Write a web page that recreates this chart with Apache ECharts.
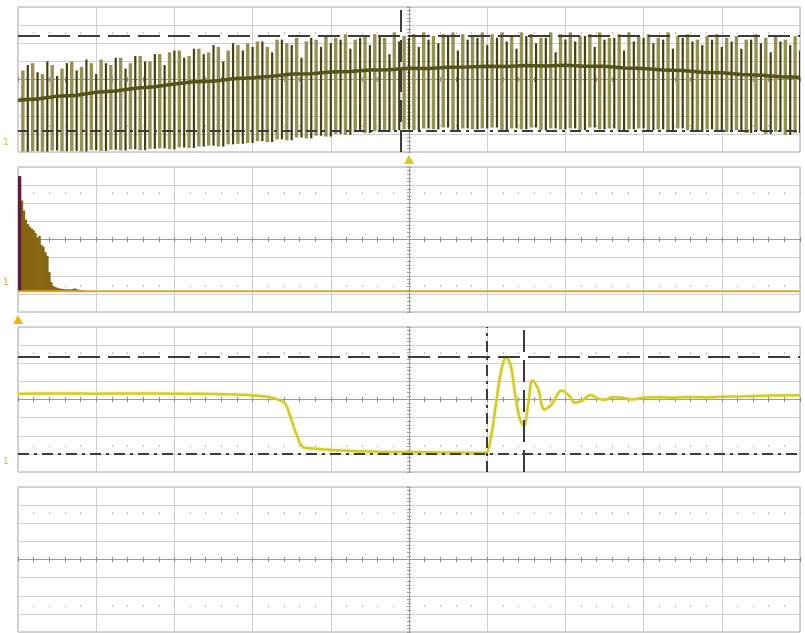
<!DOCTYPE html>
<html>
<head>
<meta charset="utf-8">
<title>Scope capture</title>
<script src="https://cdn.jsdelivr.net/npm/echarts@6/dist/echarts.min.js"></script>
<style>
  html, body { margin: 0; padding: 0; background: #fff; }
  #scope { width: 805px; height: 633px; }
</style>
</head>
<body>
<div id="scope"></div>
<script>
// all values in screen divisions: x 0..10, y 0..8

// panel 1 - switching ripple, one light + one dark spike per step
var spikeStart = 0.0625;
var spikeStep = 0.125;
var spikeLightTop = [
  4.5, 4.9, 4.3, 4.8, 4.6, 5.0, 4.7, 4.9,
  5.1, 4.8, 5.2, 4.9, 5.3, 5.0, 5.4, 5.5,
  5.6, 5.3, 5.7, 5.5, 5.8, 5.6, 5.9, 6.0,
  6.1, 5.8, 6.2, 6.0, 6.3, 6.1, 6.2, 6.4,
  6.3, 6.5, 6.2, 6.4, 6.5, 6.3, 6.6, 6.4,
  6.5, 6.6, 6.4, 6.5, 6.6, 6.5, 6.4, 6.6,
  6.5, 6.6, 6.4, 6.6, 6.5, 6.3, 6.6, 6.5,
  6.6, 6.4, 6.5, 6.6, 6.3, 6.5, 6.6, 6.4,
  6.5, 6.3, 6.6, 6.4, 6.5, 6.2, 6.4, 6.5,
  6.3, 6.4, 6.2, 6.5, 6.3, 6.4, 6.2, 6.4
];
var spikeDarkTop = [
  4.8, 4.4, 5.0, 4.2, 4.9, 4.5, 5.1, 4.3,
  4.9, 5.2, 4.6, 5.3, 5.0, 5.4, 4.8, 5.6,
  5.2, 5.7, 5.4, 5.9, 5.0, 6.0, 5.6, 5.8,
  6.1, 5.5, 6.2, 5.9, 5.2, 6.3, 5.8, 6.0,
  6.2, 5.7, 6.3, 5.9, 6.4, 5.4, 6.1, 6.3,
  5.8, 6.2, 6.0, 6.4, 5.6, 6.2, 6.3, 5.9,
  6.3, 6.1, 5.7, 6.4, 6.0, 6.3, 5.5, 6.2,
  6.1, 6.4, 5.8, 6.2, 6.3, 5.6, 6.1, 6.3,
  6.0, 6.2, 5.7, 6.3, 6.1, 5.9, 6.2, 5.8,
  6.1, 5.7, 6.2, 6.0, 5.5, 6.1, 5.9, 5.6
];
var spikeBottom = [
  0.02, 0.05, 0.02, 0.08, 0.04, 0.06, 0.03, 0.10,
  0.06, 0.12, 0.08, 0.15, 0.10, 0.18, 0.20, 0.15,
  0.25, 0.22, 0.30, 0.35, 0.30, 0.42, 0.45, 0.50,
  0.60, 0.55, 0.70, 0.65, 0.80, 0.75, 0.90, 0.85,
  1.00, 0.95, 1.10, 1.05, 1.15, 1.10, 1.20, 1.25,
  1.20, 1.30, 1.25, 1.35, 1.20, 1.30, 1.25, 1.30,
  1.35, 1.20, 1.30, 1.25, 1.35, 1.20, 1.30, 1.25,
  1.30, 1.20, 1.35, 1.25, 1.30, 1.20, 1.25, 1.30,
  1.20, 1.25, 1.15, 1.30, 1.20, 1.10, 1.25, 1.15,
  1.10, 1.20, 1.05, 1.15, 1.00, 1.10, 0.95, 1.05
];
var avgStep = 0.25;
var avgLevel = [
  2.85, 2.93, 3.07, 3.13, 3.30, 3.36, 3.52, 3.60, 3.75, 3.87,
  3.90, 4.04, 4.10, 4.18, 4.30, 4.32, 4.42, 4.44, 4.52, 4.54,
  4.62, 4.61, 4.68, 4.69, 4.73, 4.72, 4.77, 4.75, 4.78, 4.73,
  4.73, 4.64, 4.61, 4.53, 4.49, 4.40, 4.37, 4.28, 4.23, 4.15,
  4.12
];

// panel 2 - spectrum
var fftStart = 0.05;
var fftStep = 0.025;
var fftBase = 1.15;
var fftDc = [0.02, 7.5];
var fftLevel = [
  6.15, 5.6, 5.1, 4.85, 4.7, 4.6, 4.5, 4.35, 4.1, 4.2,
  3.7, 3.6, 3.3, 3.1, 2.2, 1.65, 1.45, 1.38, 1.34, 1.3,
  1.28, 1.27, 1.25, 1.26, 1.25, 1.24, 1.27, 1.3, 1.26, 1.23,
  1.22, 1.2, 1.18
];

// panel 3 - step response
var stepTime = [0, 0.5, 1, 1.5, 2, 2.5, 2.8, 3.0, 3.2, 3.35, 3.42, 3.48, 3.55, 3.63, 3.7, 3.9,
  4.2, 4.6, 5.0, 5.5, 5.95, 6.0, 6.06, 6.12, 6.18, 6.24, 6.3, 6.36, 6.42, 6.47, 6.52,
  6.58, 6.65, 6.73, 6.82, 6.95, 7.05, 7.12, 7.22, 7.32, 7.42, 7.5, 7.6, 7.72, 7.85,
  8.0, 8.2, 8.4, 8.6, 8.8, 9.0, 9.3, 9.6, 10];
var stepLevel = [4.32, 4.33, 4.32, 4.33, 4.32, 4.3, 4.27, 4.22, 4.15, 3.95, 3.75, 3.1, 2.2, 1.42, 1.32, 1.25,
  1.17, 1.12, 1.1, 1.08, 1.06, 1.1, 2.2, 4.0, 5.6, 6.35, 5.9, 4.2, 2.9, 2.55, 3.6,
  5.05, 4.6, 3.45, 3.7, 4.5, 4.2, 3.82, 3.95, 4.25, 4.05, 3.98, 4.12, 4.1, 4.0,
  4.1, 4.12, 4.1, 4.14, 4.12, 4.15, 4.18, 4.22, 4.23];

// cursors
var p1Cursor = { hi: 6.4, lo: 1.16, t: 4.9, trig: 5.0 };
var p3Cursor = { hi: 6.35, lo: 1.0, t1: 6.0, t2: 6.47 };

var panelTops = [7, 167, 327, 487];
var panelH = 145, panelW = 782, panelL = 18;

var chart = echarts.init(document.getElementById('scope'));

var grids = [], xAxes = [], yAxes = [];
var gridCol = '#cfcfcf', midCol = '#9a9a9a';
var xCols = [], yCols = [];
for (var k = 0; k <= 10; k++) xCols.push(k === 5 ? midCol : gridCol);
for (var k = 0; k <= 8; k++) yCols.push(k === 4 ? midCol : gridCol);

panelTops.forEach(function (top, i) {
  grids.push({ left: panelL, top: top, width: panelW, height: panelH, show: true,
    borderColor: '#a8a8a8', borderWidth: 1, backgroundColor: '#fff' });
  xAxes.push({ gridIndex: i, type: 'value', min: 0, max: 10, interval: 1,
    axisLine: { show: false }, axisTick: { show: false }, axisLabel: { show: false },
    splitLine: { show: true, lineStyle: { color: xCols, width: 1 } } });
  yAxes.push({ gridIndex: i, type: 'value', min: 0, max: 8, interval: 1,
    axisLine: { show: false }, axisTick: { show: false }, axisLabel: { show: false },
    splitLine: { show: true, lineStyle: { color: yCols, width: 1 } } });
});
// tick marks on centre cross and dotted rows
panelTops.forEach(function (top, i) {
  [[panelH / 2 + 2.5, 5, '#8a8a8a'], [26 + 1, 2, '#bdbdbd'], [panelH - 26 + 1, 2, '#bdbdbd']].forEach(function (r) {
    xAxes.push({ gridIndex: i, type: 'value', min: 0, max: 10, interval: 0.2, position: 'top',
      offset: -r[0], axisLine: { show: false }, axisLabel: { show: false },
      axisTick: { show: true, length: r[1], lineStyle: { color: r[2] } }, splitLine: { show: false } });
  });
  yAxes.push({ gridIndex: i, type: 'value', min: 0, max: 8, interval: 0.2, position: 'left',
    offset: -(panelW / 2 + 2), axisLine: { show: false }, axisLabel: { show: false },
    axisTick: { show: true, length: 4, lineStyle: { color: '#a0a0a0' } }, splitLine: { show: false } });
});

var lightData = spikeLightTop.map(function (v, i) { return [spikeStart + i * spikeStep, spikeBottom[i], v]; });
var darkData = spikeDarkTop.map(function (v, i) { return [spikeStart + (i + 0.5) * spikeStep, spikeBottom[i], v]; });
var avgData = avgLevel.map(function (v, i) { return [i * avgStep, v]; });
var fftData = fftLevel.map(function (v, i) { return [fftStart + i * fftStep, v]; });
var stepData = stepLevel.map(function (v, i) { return [stepTime[i], v]; });

function spikeItem(color, width) {
  return function (params, api) {
    var a = api.coord([api.value(0), api.value(1)]);
    var b = api.coord([api.value(0), api.value(2)]);
    return { type: 'line', shape: { x1: a[0], y1: a[1], x2: b[0], y2: b[1] },
      style: { stroke: color, lineWidth: width } };
  };
}
function barItem(color, halfW) {
  return function (params, api) {
    var x = api.value(0), v = api.value(1);
    var p0 = api.coord([x - halfW, v]);
    var p1 = api.coord([x + halfW, fftBase]);
    return { type: 'rect', shape: { x: p0[0], y: p0[1], width: p1[0] - p0[0], height: p1[1] - p0[1] },
      style: { fill: color } };
  };
}

var dash = [22, 8], dashDot = [11, 5, 3, 5];
function cursorLines(list) {
  return { silent: true, symbol: ['none', 'none'], label: { show: false },
    data: list.map(function (c) {
      var d = { lineStyle: { color: '#3c3c3c', width: 2, type: c.type } };
      d[c.axis] = c.v;
      return d;
    }) };
}

chart.setOption({
  animation: false,
  backgroundColor: '#fff',
  grid: grids,
  xAxis: xAxes,
  yAxis: yAxes,
  series: [
    { type: 'custom', xAxisIndex: 0, yAxisIndex: 0, clip: true, renderItem: spikeItem('#959150', 3.4),
      encode: { x: 0, y: [1, 2] }, data: lightData, z: 2 },
    { type: 'custom', xAxisIndex: 0, yAxisIndex: 0, clip: true, renderItem: spikeItem('#43410d', 2.2),
      encode: { x: 0, y: [1, 2] }, data: darkData, z: 3 },
    { type: 'line', xAxisIndex: 0, yAxisIndex: 0, data: avgData, symbol: 'none', z: 4,
      lineStyle: { color: '#55531a', width: 3.5 },
      markLine: cursorLines([
        { axis: 'yAxis', v: p1Cursor.hi, type: dash },
        { axis: 'yAxis', v: p1Cursor.lo, type: dashDot },
        { axis: 'xAxis', v: p1Cursor.t, type: dash }
      ]) },

    { type: 'custom', xAxisIndex: 1, yAxisIndex: 1, clip: true, renderItem: barItem('#85650f', fftStep / 2 + 0.004),
      encode: { x: 0, y: 1 }, data: fftData, z: 2 },
    { type: 'custom', xAxisIndex: 1, yAxisIndex: 1, clip: true, renderItem: barItem('#5c1d3c', 0.022),
      encode: { x: 0, y: 1 }, data: [fftDc], z: 3 },
    { type: 'line', xAxisIndex: 1, yAxisIndex: 1, data: [[0, fftBase], [10, fftBase]], symbol: 'none', z: 4,
      lineStyle: { color: '#d9a62e', width: 2 } },

    { type: 'line', xAxisIndex: 2, yAxisIndex: 2, data: stepData, symbol: 'none', smooth: 0.35, z: 4,
      lineStyle: { color: '#d3cb2a', width: 2.5, shadowColor: 'rgba(225,220,80,0.6)', shadowBlur: 3 },
      markLine: cursorLines([
        { axis: 'yAxis', v: p3Cursor.hi, type: dash },
        { axis: 'yAxis', v: p3Cursor.lo, type: dashDot },
        { axis: 'xAxis', v: p3Cursor.t1, type: dashDot },
        { axis: 'xAxis', v: p3Cursor.t2, type: dash }
      ]) }
  ]
});

// trigger / position markers under panels 1 and 2, placed through the axes
function triangleAt(gridIdx, xVal, color) {
  var p = chart.convertToPixel({ xAxisIndex: gridIdx, yAxisIndex: gridIdx }, [xVal, 0]);
  var y = p[1] + 3;
  return { type: 'polygon', shape: { points: [[p[0] - 5, y + 9], [p[0] + 5, y + 9], [p[0], y]] },
    style: { fill: color }, z: 10 };
}
chart.setOption({
  graphic: [
    triangleAt(0, p1Cursor.trig, '#d6c81c'),
    triangleAt(1, 0, '#f2b31a'),
    { type: 'text', left: 3, top: 138, style: { text: '1', fill: '#cbbd3a', font: '9px DejaVu Sans' } },
    { type: 'text', left: 3, top: 278, style: { text: '1', fill: '#e0a830', font: '9px DejaVu Sans' } },
    { type: 'text', left: 3, top: 457, style: { text: '1', fill: '#cbbd3a', font: '9px DejaVu Sans' } }
  ]
});
</script>
</body>
</html>
